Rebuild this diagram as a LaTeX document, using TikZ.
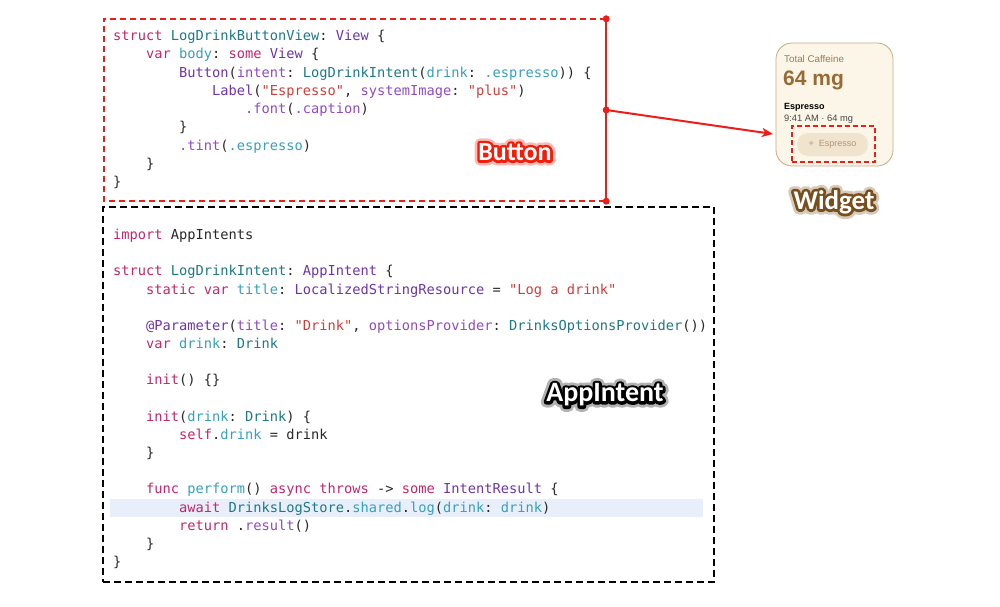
\documentclass[tikz,border=0pt]{standalone}
\usepackage{fontspec}
\setmonofont{DejaVu Sans Mono}
\setsansfont{Liberation Sans}
\newfontfamily\labfont{Carlito}
\newfontfamily\glowA{Carlito}[FakeBold=40]
\newfontfamily\glowB{Carlito}[FakeBold=20]
\usetikzlibrary{arrows.meta}
\definecolor{ckw}{RGB}{196,38,106}
\definecolor{ctype}{RGB}{30,120,135}
\definecolor{csys}{RGB}{112,52,168}
\definecolor{cprop}{RGB}{55,160,190}
\definecolor{cmeth}{RGB}{145,75,195}
\definecolor{cstr}{RGB}{208,62,58}
\definecolor{cplain}{RGB}{40,40,40}
\definecolor{redline}{RGB}{235,30,25}
\definecolor{hl}{RGB}{232,239,250}
\definecolor{cream}{RGB}{252,246,232}
\definecolor{wborder}{RGB}{200,170,130}
\definecolor{wbrown}{RGB}{160,122,78}
\definecolor{wbig}{RGB}{154,106,52}
\definecolor{wgray}{RGB}{70,70,70}
\definecolor{pill}{RGB}{240,228,206}
\definecolor{pilltext}{RGB}{180,150,115}
\definecolor{btnglow}{RGB}{240,30,10}
\definecolor{widglow}{RGB}{120,78,28}
\definecolor{intglow}{RGB}{0,0,0}
\newcommand\cK[1]{\textcolor{ckw}{#1}}
\newcommand\cT[1]{\textcolor{ctype}{#1}}
\newcommand\cS[1]{\textcolor{csys}{#1}}
\newcommand\cP[1]{\textcolor{cprop}{#1}}
\newcommand\cM[1]{\textcolor{cmeth}{#1}}
\newcommand\cQ[1]{\textcolor{cstr}{#1}}
\newcommand\glowtext[3]{{\fontsize{#2}{#2}\selectfont\pgfsetroundjoin
  \rlap{\glowA\bfseries\color{#1!30!white}#3}%
  \rlap{\glowB\bfseries\color{#1}#3}%
  {\labfont\bfseries\color{white}#3}}}
\begin{document}
\begin{tikzpicture}[x=1pt,y=-1pt,
  code/.style={anchor=base west, inner sep=0pt, text=cplain,
    font=\ttfamily\fontsize{13.7}{16}\selectfont},
  reddash/.style={draw=redline, line width=2pt, dash pattern=on 6pt off 4pt},
  redsolid/.style={draw=redline, line width=2pt},
  blackdash/.style={draw=black, line width=2pt, dash pattern=on 7pt off 4pt},
  wtext/.style={anchor=base west, inner sep=0pt},
  lbl/.style={inner sep=0pt, line join=round}]
\useasboundingbox (0,0) rectangle (1000,606);
\fill[white] (0,0) rectangle (1000,606);

% highlight band
\fill[hl] (110,499) rectangle (703,517);

% Button box
\node[minimum width=502, minimum height=182, inner sep=0pt] (btnbox) at (355,110) {};
\draw[reddash] (btnbox.north east) -- (btnbox.north west) -- (btnbox.south west) -- (btnbox.south east);
\draw[redsolid] (btnbox.north east) -- (btnbox.south east);

% AppIntent box
\node[blackdash, minimum width=611, minimum height=375, inner sep=0pt] (intentbox) at (408.5,394.5) {};

% Button code
\node[code] (b1) at (113,40.5) {\cK{struct} \cT{LogDrinkButtonView}: \cS{View} \{};
\node[code] (b2) at (146,58.75) {\cK{var} \cP{body}: \cK{some} \cS{View} \{};
\node[code] (b3) at (179,77) {\cS{Button}(\cM{intent}: \cT{LogDrinkIntent}(\cP{drink}: \cP{.espresso})) \{};
\node[code] (b4) at (212,95.25) {\cS{Label}(\cQ{"Espresso"}, \cM{systemImage}: \cQ{"plus"})};
\node[code] (b5) at (245,113.5) {\cM{.font}(\cM{.caption})};
\node[code] (b6) at (179,131.75) {\}};
\node[code] (b7) at (179,150) {\cM{.tint}(\cP{.espresso})};
\node[code] (b8) at (146,168.25) {\}};
\node[code] (b9) at (113,186.5) {\}};

% AppIntent code
\node[code] (a0) at (113,239.5) {\cK{import} AppIntents};
\node[code] (a2) at (113,275.8) {\cK{struct} \cT{LogDrinkIntent}: \cS{AppIntent} \{};
\node[code] (a3) at (146,294) {\cK{static} \cK{var} \cP{title}: \cS{LocalizedStringResource} = \cQ{"Log a drink"}};
\node[code] (a5) at (146,330.4) {\cS{@Parameter}(\cM{title}: \cQ{"Drink"}, \cM{optionsProvider}: \cT{DrinksOptionsProvider}())};
\node[code] (a6) at (146,348.5) {\cK{var} \cP{drink}: \cT{Drink}};
\node[code] (a8) at (146,384.9) {\cK{init}() \{\}};
\node[code] (a10) at (146,421.2) {\cK{init}(\cP{drink}: \cT{Drink}) \{};
\node[code] (a11) at (179,439.4) {\cK{self}.\cP{drink} = drink};
\node[code] (a12) at (146,457.5) {\}};
\node[code] (a14) at (146,493.9) {\cK{func} \cP{perform}() \cK{async} \cK{throws} -> \cK{some} \cS{IntentResult} \{};
\node[code] (a15) at (179,512.1) {\cK{await} \cT{DrinksLogStore}.\cP{shared}.\cP{log}(\cP{drink}: \cP{drink})};
\node[code] (a16) at (179,530.2) {\cK{return} .\cM{result}()};
\node[code] (a17) at (146,548.4) {\}};
\node[code] (a18) at (113,566.6) {\}};

% Widget
\node[draw=wborder, fill=cream, line width=0.8pt, rounded corners=16pt,
  minimum width=117, minimum height=123, inner sep=0pt] (widget) at (834.5,104.5) {};
\node[wtext, text=wbrown, font=\sffamily\fontsize{9.8}{11}\selectfont] (wtitle) at (784,62) {Total Caffeine};
\node[wtext, text=wbig, font=\sffamily\bfseries\fontsize{21}{24}\selectfont] (wval) at (783,85) {64 mg};
\node[wtext, text=black, font=\sffamily\bfseries\fontsize{9}{11}\selectfont] (wname) at (784,109) {Espresso};
\node[wtext, text=wgray, font=\sffamily\fontsize{9.3}{11}\selectfont] (wtime) at (784,121) {9:41 AM · 64 mg};
\node[fill=pill, rounded corners=11pt, minimum width=71, minimum height=23, inner sep=0pt,
  text=pilltext, font=\sffamily\fontsize{9}{10}\selectfont] (pill) at (832.5,144.5) {+\hspace{5pt}Espresso};
\node[draw=redline, line width=1.8pt, dash pattern=on 5pt off 3pt,
  minimum width=83, minimum height=36, inner sep=0pt] (tgt) at (833.5,144) {};

% connector
\coordinate (arrowend) at (773,134);
\draw[redsolid, -{Stealth[length=11pt,width=9pt,inset=3pt]}] (btnbox.east) -- (arrowend);
\fill[redline] (btnbox.north east) circle (3.5);
\fill[redline] (btnbox.east) circle (3.5);
\fill[redline] (btnbox.south east) circle (3.5);

% labels
\node[lbl] (lblbtn) at (515,152) {\glowtext{btnglow}{26}{Button}};
\node[lbl] (lblwid) at (834,202) {\glowtext{widglow}{27}{Widget}};
\node[lbl] (lblint) at (605,395) {\glowtext{intglow}{28}{AppIntent}};
\end{tikzpicture}
\end{document}
